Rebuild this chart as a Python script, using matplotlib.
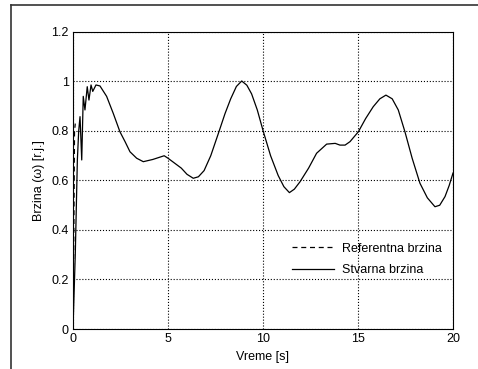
import matplotlib
matplotlib.use('Agg')
from matplotlib import pyplot as plt
from matplotlib.lines import Line2D

plt.rcParams['font.family'] = ['Liberation Sans', 'DejaVu Sans']

t_act = [0.0, 0.12, 0.23, 0.3, 0.37, 0.46, 0.54, 0.63, 0.75, 0.84, 0.95, 1.04, 1.21,
         1.42, 1.77, 2.12, 2.47, 2.74, 3.0, 3.35, 3.7, 4.2, 4.8, 5.0, 5.35, 5.7, 6.0,
         6.33, 6.6, 6.9, 7.25, 7.65, 8.0, 8.3, 8.6, 8.88, 9.15, 9.4, 9.7, 10.02, 10.4,
         10.8, 11.1, 11.39, 11.65, 11.95, 12.4, 12.82, 13.35, 13.8, 14.05, 14.32, 14.58,
         15.02, 15.4, 15.8, 16.15, 16.47, 16.8, 17.12, 17.47, 17.85, 18.26, 18.65, 19.05,
         19.3, 19.58, 19.8, 20.0]
w_act = [0.0, 0.3, 0.683, 0.8, 0.858, 0.683, 0.94, 0.885, 0.979, 0.925, 0.986, 0.96, 0.986,
         0.982, 0.94, 0.871, 0.797, 0.757, 0.716, 0.69, 0.676, 0.685, 0.70, 0.69, 0.67, 0.65, 0.625,
         0.609, 0.615, 0.64, 0.70, 0.79, 0.87, 0.93, 0.98, 1.002, 0.985, 0.95, 0.885, 0.797, 0.70,
         0.62, 0.575, 0.551, 0.565, 0.595, 0.65, 0.71, 0.747, 0.75, 0.743, 0.743, 0.757,
         0.797, 0.85, 0.898, 0.93, 0.945, 0.93, 0.885, 0.797, 0.69, 0.589, 0.53, 0.494,
         0.5, 0.535, 0.58, 0.63]

# Referentna brzina (reference speed) - only the start is visible, then it hides under the solid line
t_ref = [0.0, 0.05, 0.08, 0.12]
w_ref = [0.0, 0.45, 0.8, 0.83]

fig = plt.figure(figsize=(4.78, 3.69), dpi=100)
ax = fig.add_axes([0.1527, 0.1084, 0.795, 0.8049])

ax.plot(t_ref, w_ref, color='black', linestyle=(0, (4, 3)), linewidth=0.9, label='Referentna brzina')
ax.plot(t_act, w_act, color='black', linestyle='-', linewidth=0.9, label='Stvarna brzina')

ax.set_xlim(0, 20)
ax.set_ylim(0, 1.2)
ax.set_xticks([0, 5, 10, 15, 20])
ax.set_yticks([0, 0.2, 0.4, 0.6, 0.8, 1.0, 1.2])
ax.set_yticklabels(['0', '0.2', '0.4', '0.6', '0.8', '1', '1.2'])
ax.tick_params(direction='in', length=0, labelsize=9, pad=3)
ax.grid(True, color='black', linestyle=':', linewidth=0.8)

ax.set_xlabel('Vreme [s]', fontsize=9, labelpad=4)
ax.set_ylabel('Brzina (ω) [r.j.]', fontsize=9, labelpad=5)

ax.legend(loc='lower right', bbox_to_anchor=(1.0, 0.14), frameon=False, fontsize=9,
          handlelength=3.4, handletextpad=0.6, labelspacing=0.75)

# outer frame of the scanned figure
fig.add_artist(Line2D([11 / 478, 11 / 478], [0, 1 - 5 / 369], color='#333333', linewidth=1.2,
                      transform=fig.transFigure))
fig.add_artist(Line2D([11 / 478, 1], [1 - 5 / 369, 1 - 5 / 369], color='#333333', linewidth=1.2,
                      transform=fig.transFigure))

fig.savefig('out.png', dpi=100)
